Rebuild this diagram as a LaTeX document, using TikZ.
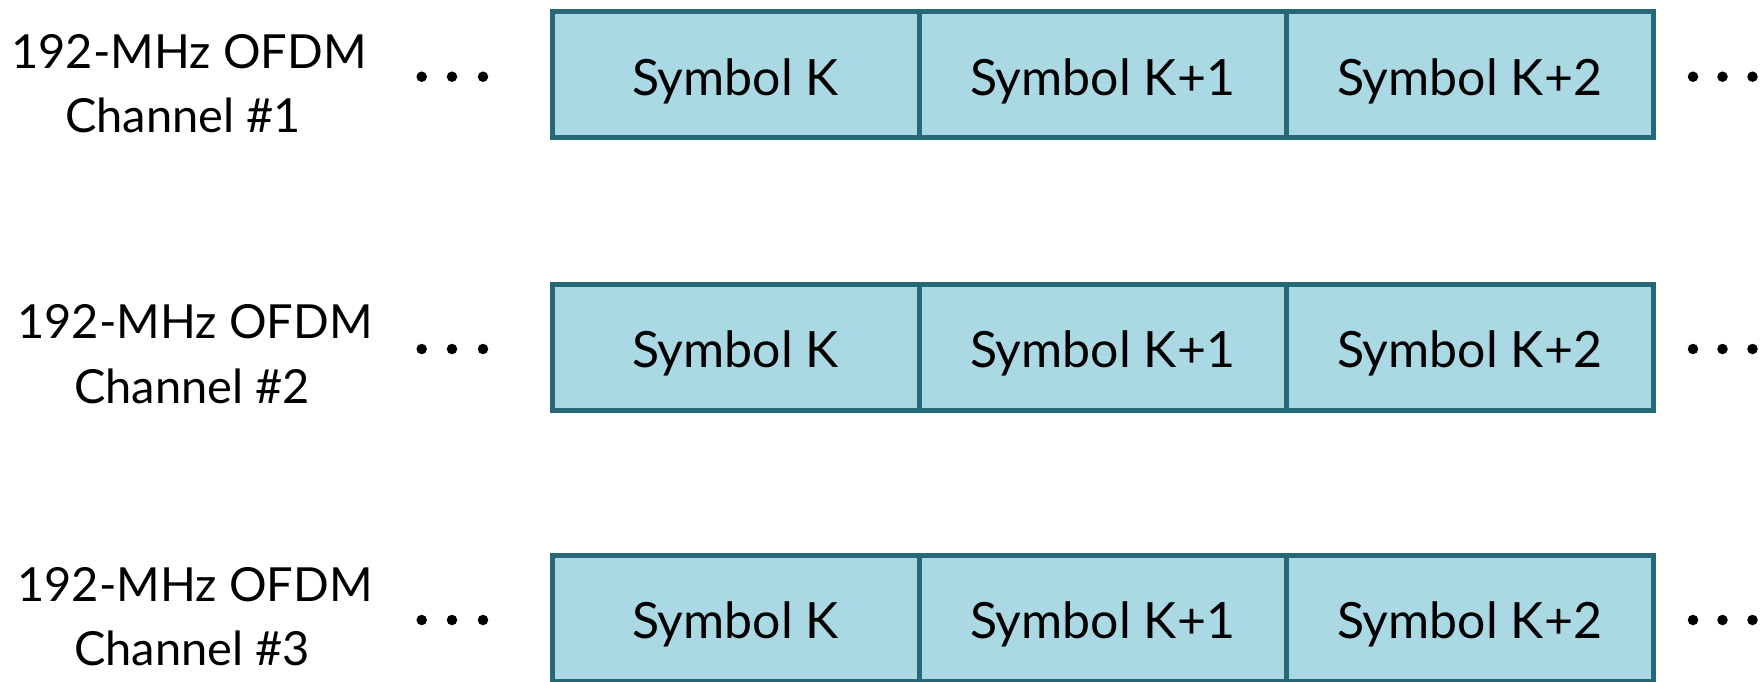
\documentclass[tikz,border=0pt]{standalone}
\usepackage{fontspec}
\setmainfont{Lato}
\definecolor{cellfill}{RGB}{170,216,227}
\definecolor{celldraw}{RGB}{37,104,120}
\begin{document}
\begin{tikzpicture}[x=1pt,y=-1pt,
  cell/.style={draw=celldraw,fill=cellfill,line width=5pt,minimum width=367pt,minimum height=126pt,inner sep=0pt,outer sep=0pt},
  celltext/.style={font=\fontsize{50}{60}\selectfont,anchor=base,inner sep=0pt},
  lab/.style={font=\fontsize{47}{56}\selectfont,anchor=base,inner sep=0pt},
  dotc/.style={circle,fill=black,inner sep=0pt,minimum size=10.5pt}]
\useasboundingbox (0,0) rectangle (1761,681);
\clip (0,0) rectangle (1761,681);
% row 1
\node[cell] (a1) at (735.5,74.7) {};
\node[cell] (a2) at (1102.5,74.7) {};
\node[cell] (a3) at (1469.5,74.7) {};
\node[celltext] (ta1) at (735.5,95) {Symbol K};
\node[celltext] (ta2) at (1102.5,95) {Symbol K+1};
\node[celltext] (ta3) at (1469.5,95) {Symbol K+2};
\node[lab] (la1) at (189,68) {192-MHz OFDM};
\node[lab] (la2) at (183,132) {Channel \#1};
\node[dotc] (da1) at (421.7,76.7) {};
\node[dotc] (da2) at (452,76.7) {};
\node[dotc] (da3) at (483,76.7) {};
\node[dotc] (ea1) at (1693,76.7) {};
\node[dotc] (ea2) at (1722.5,76.7) {};
\node[dotc] (ea3) at (1752.5,76.7) {};
% row 2
\node[cell] (b1) at (735.5,347.5) {};
\node[cell] (b2) at (1102.5,347.5) {};
\node[cell] (b3) at (1469.5,347.5) {};
\node[celltext] (tb1) at (735.5,367.7) {Symbol K};
\node[celltext] (tb2) at (1102.5,367.7) {Symbol K+1};
\node[celltext] (tb3) at (1469.5,367.7) {Symbol K+2};
\node[lab] (lb1) at (195,338) {192-MHz OFDM};
\node[lab] (lb2) at (192,403) {Channel \#2};
\node[dotc] (db1) at (421.7,349) {};
\node[dotc] (db2) at (452,349) {};
\node[dotc] (db3) at (483,349) {};
\node[dotc] (eb1) at (1693,349) {};
\node[dotc] (eb2) at (1722.5,349) {};
\node[dotc] (eb3) at (1752.5,349) {};
% row 3
\node[cell] (c1) at (735.5,618.7) {};
\node[cell] (c2) at (1102.5,618.7) {};
\node[cell] (c3) at (1469.5,618.7) {};
\node[celltext] (tc1) at (735.5,638.3) {Symbol K};
\node[celltext] (tc2) at (1102.5,638.3) {Symbol K+1};
\node[celltext] (tc3) at (1469.5,638.3) {Symbol K+2};
\node[lab] (lc1) at (195,601) {192-MHz OFDM};
\node[lab] (lc2) at (192,665) {Channel \#3};
\node[dotc] (dc1) at (421.7,620) {};
\node[dotc] (dc2) at (452,620) {};
\node[dotc] (dc3) at (483,620) {};
\node[dotc] (ec1) at (1693,620) {};
\node[dotc] (ec2) at (1722.5,620) {};
\node[dotc] (ec3) at (1752.5,620) {};
\end{tikzpicture}
\end{document}
